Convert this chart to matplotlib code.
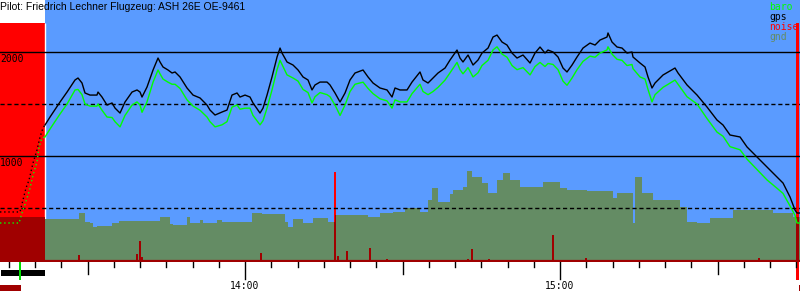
import numpy as np
import matplotlib.pyplot as plt
from matplotlib import transforms

# time axis: minutes after 13:00, altitudes in m
t_start, t_end = 13.33, 165.71
release_t = 21.9      # end of tow (red zone)
landing_t = 165.25
tow_top = 2279

# climb on tow (drawn dotted)
tow_gps_t = [13.33, 17.14, 17.71, 18.28, 18.86, 19.62, 20.38, 20.95, 21.52, 21.9]
tow_gps_alt = [462, 462, 577, 692, 769, 933, 1058, 1183, 1269, 1298]
tow_baro_t = [13.33, 16.95, 17.52, 18.1, 18.67, 19.05, 19.62, 20.38, 20.76, 21.33, 21.9]
tow_baro_alt = [356, 356, 452, 538, 625, 692, 817, 942, 1087, 1173, 1183]

flight_t = [21.9, 22.86, 24.76, 26.1, 27.62, 28.19, 28.95, 29.52, 30.47, 31.8, 32.0,
            32.76, 33.71, 34.67, 35.24, 36.19, 37.14, 38.48, 39.43, 40.0, 40.38,
            41.33, 42.48, 43.43, 43.81, 44.38, 45.33, 46.1, 46.67, 47.62, 48.95,
            50.1, 51.43, 52.76, 53.33, 54.29, 55.62, 56.57, 57.52, 58.48, 59.05,
            60.0, 60.95, 61.52, 62.86, 63.43, 64.19, 65.14, 66.1, 66.67, 67.05,
            68.0, 69.14, 70.1, 71.05, 72.0, 72.76, 73.33, 74.29, 75.62, 76.19,
            77.14, 78.1, 79.05, 80.0, 80.95, 82.48, 83.43, 84.38, 85.71, 87.05,
            88.0, 88.57, 89.52, 90.86, 91.81, 93.33, 93.9, 94.86, 95.81, 96.76,
            98.1, 99.05, 100.38, 100.95, 101.52, 102.48, 103.43, 104.38, 105.14, 106.29,
            107.24, 108.0, 108.95, 109.9, 110.86, 111.81, 112.95, 114.29, 115.24, 116.19,
            117.14, 117.71, 118.67, 119.62, 120.57, 121.33, 122.29, 123.24, 124.38, 125.71,
            126.67, 127.62, 128.95, 129.14, 129.9, 130.86, 131.81, 132.76, 133.71, 133.9,
            135.24, 136.19, 136.76, 137.52, 138.1, 139.62, 141.9, 142.48, 144.19, 146.1,
            148.0, 149.9, 151.05, 152.38, 154.29, 155.62, 157.52, 159.43, 161.33, 162.48,
            163.81, 164.76, 165.14, 165.71]
gps_alt = [1298, 1375, 1519, 1615, 1731, 1750, 1702, 1606, 1586, 1586, 1615,
           1567, 1490, 1510, 1461, 1413, 1519, 1615, 1635, 1615, 1567,
           1663, 1827, 1942, 1904, 1856, 1827, 1798, 1808, 1760, 1654,
           1586, 1558, 1490, 1442, 1394, 1423, 1442, 1586, 1606, 1567,
           1586, 1567, 1510, 1413, 1461, 1586, 1760, 1952, 2038, 1990,
           1904, 1875, 1827, 1760, 1731, 1635, 1683, 1711, 1711, 1683,
           1606, 1519, 1606, 1731, 1798, 1827, 1760, 1702, 1654, 1635,
           1567, 1654, 1635, 1635, 1711, 1808, 1731, 1702, 1750, 1798,
           1846, 1923, 2019, 1942, 1904, 1971, 1875, 1923, 1990, 2038,
           2144, 2163, 2096, 2067, 1990, 1942, 1971, 1894, 1990, 2048,
           1990, 2019, 2000, 1952, 1846, 1808, 1875, 1952, 2038, 2086,
           2067, 2115, 2144, 2183, 2096, 2048, 2038, 1990, 2000, 1952,
           1894, 1856, 1760, 1654, 1702, 1779, 1846, 1798, 1683, 1586,
           1471, 1346, 1298, 1202, 1183, 1087, 990, 894, 798, 740,
           606, 481, 452, 452]
baro_alt = [1183, 1260, 1404, 1500, 1635, 1640, 1590, 1500, 1480, 1480, 1500,
            1440, 1375, 1370, 1330, 1280, 1390, 1490, 1520, 1490, 1420,
            1520, 1710, 1827, 1790, 1740, 1710, 1690, 1690, 1650, 1540,
            1480, 1440, 1375, 1330, 1280, 1300, 1330, 1470, 1490, 1450,
            1460, 1460, 1390, 1300, 1340, 1460, 1635, 1830, 1920, 1880,
            1780, 1750, 1720, 1640, 1610, 1510, 1570, 1610, 1590, 1570,
            1490, 1390, 1490, 1620, 1690, 1710, 1650, 1600, 1550, 1530,
            1460, 1540, 1520, 1520, 1600, 1690, 1620, 1590, 1620, 1660,
            1730, 1800, 1900, 1830, 1790, 1850, 1760, 1800, 1870, 1920,
            2020, 2050, 1980, 1950, 1870, 1830, 1850, 1780, 1860, 1900,
            1860, 1890, 1880, 1830, 1720, 1680, 1750, 1830, 1910, 1960,
            1950, 1990, 2020, 2050, 1980, 1930, 1920, 1870, 1880, 1840,
            1760, 1740, 1640, 1520, 1590, 1660, 1730, 1690, 1570, 1500,
            1360, 1230, 1190, 1090, 1060, 970, 870, 770, 690, 640,
            520, 430, 356, 356]

# terrain under the track (step profile)
gnd_t = [13.33, 21.9, 28.38, 29.52, 30.47, 31.05, 31.81, 34.67, 36.0, 43.81,
         45.71, 46.29, 48.95, 49.52, 51.43, 52.0, 54.67, 55.62, 61.33, 63.24,
         67.62, 68.19, 69.14, 71.05, 72.95, 75.81, 77.14, 83.43, 85.71, 88.19,
         90.48, 93.33, 94.86, 95.62, 96.76, 99.05, 99.62, 101.52, 102.29, 103.24,
         105.14, 106.29, 108.0, 109.14, 110.48, 112.38, 116.76, 120.0, 121.33, 125.14,
         130.1, 130.86, 133.9, 134.29, 135.62, 137.71, 142.86, 144.19, 146.1, 148.57,
         152.95, 160.57, 164.38, 165.71]
gnd_alt = [413, 394, 452, 365, 356, 317, 327, 356, 375, 413,
           346, 337, 413, 356, 385, 356, 385, 365, 452, 442,
           365, 317, 394, 356, 404, 365, 433, 413, 452, 462,
           500, 462, 577, 692, 558, 635, 673, 702, 856, 798,
           740, 644, 769, 837, 769, 702, 750, 692, 673, 663,
           596, 644, 356, 798, 644, 577, 510, 365, 356, 404,
           481, 452, 413, 413]

noise_t = [28.38, 39.43, 40.0, 40.38, 63.05, 77.14, 77.71, 79.43, 83.81, 87.05,
           102.48, 103.24, 106.48, 118.67, 124.95, 157.9]
noise_val = [48, 58, 183, 29, 67, 846, 38, 87, 115, 10,
             10, 106, 10, 240, 19, 19]

sky = '#5a9bff'
gnd_col = '#648c64'
dark_red = '#a00000'

fig = plt.figure(figsize=(8, 3), dpi=100)
ax = fig.add_axes([0, 38 / 300, 1, 262 / 300])
ax.set_xlim(t_start, t_end)
ax.set_ylim(-19, 2500)
ax.axis('off')

# background zones
ax.axvspan(release_t, t_end, color=sky, lw=0, zorder=0)
ax.fill_between([t_start, release_t], -19, tow_top, color='red', lw=0, zorder=1)
ax.fill_between([landing_t - 0.25, landing_t + 0.25], -19, tow_top, color='red', lw=0, zorder=1)
ax.vlines(release_t, -19, tow_top, color='white', lw=1, zorder=1.5)

# noise bars (red above ground)
ax.bar(noise_t, noise_val, width=0.3, color='red', lw=0, zorder=2)

# ground
gnd = ax.fill_between(gnd_t, gnd_alt, -19, step='post', color=gnd_col, lw=0, zorder=3)
clip = gnd.get_paths()[0]

# parts of red overlapping the ground turn dark red
dr = ax.bar(noise_t, noise_val, width=0.3, color=dark_red, lw=0, zorder=3.5)
for b in dr:
    b.set_clip_path(clip, ax.transData)
for a, b in [(t_start, release_t), (landing_t - 0.25, landing_t + 0.25)]:
    p = ax.fill_between([a, b], -19, tow_top, color=dark_red, lw=0, zorder=3.5)
    p.set_clip_path(clip, ax.transData)

# altitude grid
for lvl, ls in [(500, (0, (3, 2))), (1000, '-'), (1500, (0, (3, 2))), (2000, '-')]:
    ax.axhline(lvl, color='black', lw=1.0, linestyle=ls, zorder=4)
ax.axhline(-10, color=dark_red, lw=1.6, zorder=4)

# tracks
ax.plot(tow_baro_t, tow_baro_alt, color='#00ff00', lw=1, linestyle=(0, (1, 2)), zorder=5)
ax.plot(tow_gps_t, tow_gps_alt, color='black', lw=1, linestyle=(0, (1, 2)), zorder=5)
ax.plot(flight_t, baro_alt, color='#00ff00', lw=1, zorder=5)
ax.plot(flight_t, gps_alt, color='black', lw=1, zorder=5)

mono = 'DejaVu Sans Mono'
for lvl in [2000, 1000]:
    ax.text(t_start + 0.05, lvl - 20, str(lvl), fontsize=7, family=mono, va='top', ha='left', zorder=6)

# legend
for i, (name, c) in enumerate([('baro', '#00ff00'), ('gps', 'black'), ('noise', 'red'), ('gnd', gnd_col)]):
    fig.text(769 / 800, 1 - (10 + 10 * i) / 300, name, color=c, fontsize=7, family=mono,
             va='baseline', ha='left')

fig.text(0.0, 1 - 2 / 300, 'Pilot: Friedrich Lechner Flugzeug: ASH 26E OE-9461',
         fontsize=7.5, family='Liberation Sans', va='top', ha='left')

# time ticks below the axis
tr = transforms.blended_transform_factory(ax.transData, fig.transFigure)
for m in np.arange(15, 166, 5):
    if m % 60 == 0:
        h = 17
    elif m % 30 == 0:
        h = 12
    else:
        h = 5
    ax.plot([m, m], [1 - 262 / 300, 1 - (262 + h) / 300], color='black', lw=1,
            transform=tr, clip_on=False)
for m, lab in [(60, '14:00'), (120, '15:00')]:
    ax.text(m, 1 - 281 / 300, lab, transform=tr, fontsize=7, family=mono,
            ha='center', va='top', clip_on=False)

# flight phase markers
ax.fill_between([13.5, release_t], 1 - 276 / 300, 1 - 270 / 300, color='black', lw=0,
                transform=tr, clip_on=False)
ax.fill_between([16.95, 17.35], 1 - 280 / 300, 1 - 262 / 300, color='#00dd00', lw=0,
                transform=tr, clip_on=False)
ax.fill_between([t_start, 17.35], 1 - 291 / 300, 1 - 285 / 300, color=dark_red, lw=0,
                transform=tr, clip_on=False)
ax.fill_between([landing_t - 0.25, landing_t + 0.25], 1 - 280 / 300, 1 - 262 / 300,
                color='red', lw=0, transform=tr, clip_on=False)
ax.fill_between([165.45, t_end], 1 - 291 / 300, 1 - 285 / 300, color=dark_red, lw=0,
                transform=tr, clip_on=False)

fig.savefig('out.png', dpi=100)
